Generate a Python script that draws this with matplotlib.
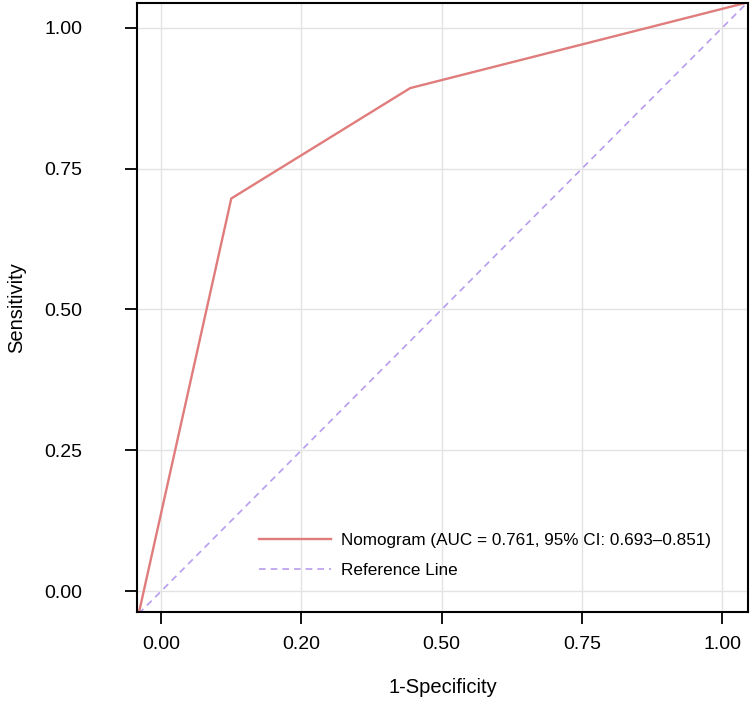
import matplotlib

matplotlib.use("Agg")
import matplotlib.pyplot as plt

# ROC curve points
fpr = [-0.04, 0.125, 0.444, 1.045]
tpr = [-0.04, 0.697, 0.893, 1.045]
ref_line = [-0.04, 1.045]

x_ticks = [0.0, 0.25, 0.5, 0.75, 1.0]
x_tick_labels = ["0.00", "0.20", "0.50", "0.75", "1.00"]
y_ticks = [0.0, 0.25, 0.5, 0.75, 1.0]
y_tick_labels = ["0.00", "0.25", "0.50", "0.75", "1.00"]

curve_label = "Nomogram (AUC = 0.761, 95% CI: 0.693\u20130.851)"
ref_label = "Reference Line"

plt.rcParams["font.family"] = ["Liberation Sans", "DejaVu Sans"]

fig = plt.figure(figsize=(7.5, 7.01), dpi=100)
ax = fig.add_axes([0.1827, 0.127, 0.8146, 0.8687])

ax.plot(fpr, tpr, color="#E07C7C", linewidth=1.7, label=curve_label)
ax.plot(ref_line, ref_line, color="#B89CEE", linewidth=1.2,
        linestyle=(0, (4, 3)), label=ref_label)

ax.set_xlim(-0.043, 1.046)
ax.set_ylim(-0.037, 1.044)
ax.set_xticks(x_ticks)
ax.set_xticklabels(x_tick_labels)
ax.set_yticks(y_ticks)
ax.set_yticklabels(y_tick_labels)
ax.tick_params(direction="out", length=8.5, width=1.3, labelsize=14,
               color="black")
ax.tick_params(axis="y", pad=31)
ax.tick_params(axis="x", pad=9)
ax.grid(color="#E3E3E3", linewidth=1.0)
ax.set_axisbelow(True)
for spine in ax.spines.values():
    spine.set_linewidth(1.5)
    spine.set_color("black")

ax.set_xlabel("1-Specificity", fontsize=14.5, labelpad=18)
ax.set_ylabel("Sensitivity", fontsize=14.5, labelpad=13)

ax.legend(loc="lower right", bbox_to_anchor=(0.965, 0.03), frameon=False,
          fontsize=12.3, handlelength=4.2, handletextpad=0.6,
          labelspacing=0.9)

fig.savefig("out.png", dpi=100)
plt.close(fig)
